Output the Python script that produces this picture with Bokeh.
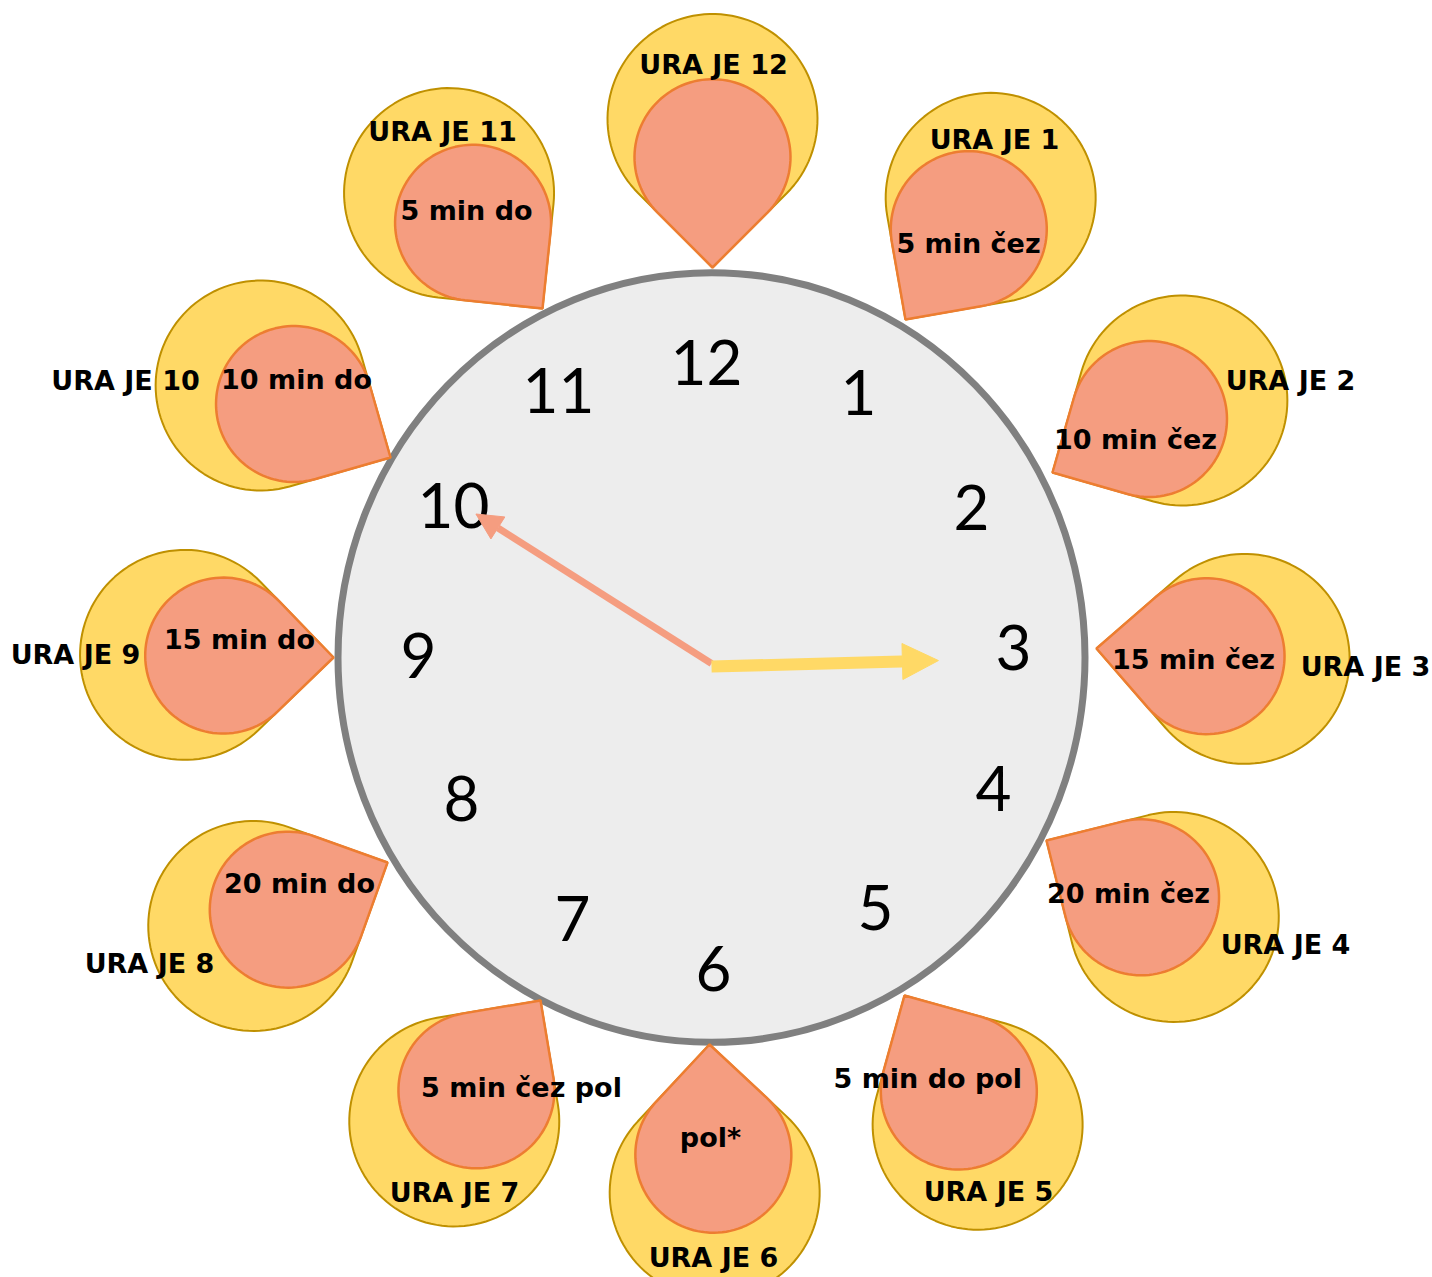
import numpy as np
from bokeh.plotting import figure
from bokeh.models import Range1d, Arrow, NormalHead, ColumnDataSource
from bokeh.core.properties import value
from bokeh.embed import file_html
from bokeh.resources import INLINE

# ---------------- DATA ----------------
hours = [12, 1, 2, 3, 4, 5, 6, 7, 8, 9, 10, 11]
hour_labels = ["URA JE 12", "URA JE 1", "URA JE 2", "URA JE 3", "URA JE 4", "URA JE 5",
               "URA JE 6", "URA JE 7", "URA JE 8", "URA JE 9", "URA JE 10", "URA JE 11"]
minute_labels = ["", "5 min čez", "10 min čez", "15 min čez", "20 min čez", "5  min do pol",
                 "pol*", "5 min čez pol", "20 min do", "15 min do", "10 min do", "5 min do"]
dial_numbers = ["12", "1", "2", "3", "4", "5", "6", "7", "8", "9", "10", "11"]
hour_hand_value = 2.95      # hours
minute_hand_value = 50.4    # minutes

# ---------------- LAYOUT (pixel space of the picture) ----------------
W, H = 1432, 1277
FACE_X, FACE_Y, FACE_W, FACE_H = 711, 657, 747, 770
PIVOT_X, PIVOT_Y = 711, 664
HOUR_LEN, MIN_LEN = 227, 279

tip_x = [712, 905, 1052, 1096, 1046, 904, 709, 540, 387, 333, 390, 542]
tip_y = [267, 319, 472, 648, 840, 995, 1044, 1000, 862, 657, 457, 308]
tip_dir = [90, 125, 151, 184, 211, 240.5, 268, 305.5, 334.7, 1, 29, 51]
R_OUTER, R_INNER = 105, 78

hour_lab_x = [713, 994, 1290, 1365, 1285, 988, 713, 454, 149, 75, 125, 442]
hour_lab_y = [64, 139, 380, 666, 944, 1191, 1257, 1192, 963, 654, 380, 131]
min_lab_x = [713, 968, 1135, 1193, 1128, 932, 710, 521, 299, 239, 296, 466]
min_lab_y = [157, 243, 439, 659, 893, 1078, 1137, 1087, 883, 639, 379, 210]

num_x = [706, 858, 971, 1013, 993, 875, 713, 572, 461, 418, 453, 558]
num_y = [362, 392, 507, 647, 788, 907, 968, 918, 798, 655, 505, 390]

YELLOW, YELLOW_LINE = "#FFD966", "#BF9000"
SALMON, SALMON_LINE = "#F59D80", "#ED7D31"


def teardrop(tx, ty, phi_deg, r, n=90):
    phi = np.radians(phi_deg)
    d = r * np.sqrt(2)
    cx = tx - d * np.cos(phi)
    cy = ty - d * np.sin(phi)
    t = np.linspace(phi + np.pi / 4, phi + 7 * np.pi / 4, n)
    xs = list(cx + r * np.cos(t)) + [tx]
    ys = list(cy + r * np.sin(t)) + [ty]
    return xs, ys


p = figure(width=W, height=H, x_range=Range1d(0, W), y_range=Range1d(H, 0),
           output_backend="svg", toolbar_location=None, min_border=0,
           x_axis_type=None, y_axis_type=None)
p.grid.visible = False
p.outline_line_color = None
p.background_fill_color = "white"

# clock face
p.ellipse(x=[FACE_X], y=[FACE_Y], width=[FACE_W], height=[FACE_H],
          fill_color="#EDEDED", line_color="#808080", line_width=7)

# teardrops
oxs, oys, ixs, iys = [], [], [], []
for tx, ty, ph in zip(tip_x, tip_y, tip_dir):
    a, b = teardrop(tx, ty, ph, R_OUTER)
    oxs.append(a); oys.append(b)
    a, b = teardrop(tx, ty, ph, R_INNER)
    ixs.append(a); iys.append(b)

for k in range(len(hours)):
    p.patch(oxs[k], oys[k], fill_color=YELLOW, line_color=YELLOW_LINE, line_width=2)
    p.patch(ixs[k], iys[k], fill_color=SALMON, line_color=SALMON_LINE, line_width=2.5)

# dial numbers
p.text(x=num_x, y=num_y, text=dial_numbers, text_font=value("Lato"),
       text_font_size="62px", text_align="center", text_baseline="middle",
       text_color="black")

# hands
h_ang = np.radians(-90 + hour_hand_value * 30)
m_ang = np.radians(-90 + minute_hand_value * 6)
p.add_layout(Arrow(end=NormalHead(size=26, fill_color=SALMON, line_color=SALMON),
                   x_start=PIVOT_X, y_start=PIVOT_Y - 1,
                   x_end=PIVOT_X + MIN_LEN * np.cos(m_ang), y_end=PIVOT_Y - 1 + MIN_LEN * np.sin(m_ang),
                   line_color=SALMON, line_width=7))
p.add_layout(Arrow(end=NormalHead(size=36, fill_color=YELLOW, line_color=YELLOW),
                   x_start=PIVOT_X, y_start=PIVOT_Y + 2,
                   x_end=PIVOT_X + HOUR_LEN * np.cos(h_ang), y_end=PIVOT_Y + 2 + HOUR_LEN * np.sin(h_ang),
                   line_color=YELLOW, line_width=12))

# labels
src_h = ColumnDataSource(dict(x=hour_lab_x, y=hour_lab_y, t=hour_labels))
src_m = ColumnDataSource(dict(x=min_lab_x, y=min_lab_y, t=minute_labels))
for src in (src_m, src_h):
    p.text(x="x", y="y", text="t", source=src, text_font=value("DejaVu Sans"),
           text_font_style="bold", text_font_size="27px", text_align="center",
           text_baseline="middle", text_color="black")

open("out.html", "w").write(file_html(p, INLINE))
